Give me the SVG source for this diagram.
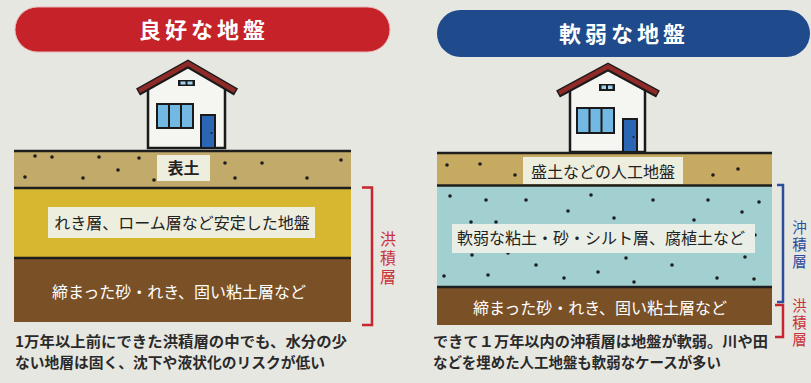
<svg xmlns="http://www.w3.org/2000/svg" width="811" height="383" viewBox="0 0 811 383">
  <defs>
    <style>
      .jp { font-family: "Noto Sans CJK JP", "Noto Sans", sans-serif; }
      .title { font-size: 22px; font-weight: bold; fill: #ffffff; letter-spacing: 4px; }
      .lbl { font-size: 16px; fill: #222222; }
      .lblw { font-size: 16px; fill: #ffffff; }
      .cap { font-size: 14.5px; font-weight: bold; fill: #2a2a2a; }
      .vert { writing-mode: vertical-rl; }
      .vr { font-size: 16px; fill: #c8323a; letter-spacing: 3px; }
      .vb { font-size: 14.5px; fill: #2c4c9c; letter-spacing: 2.5px; }
      .vr2 { font-size: 14.5px; fill: #c8323a; letter-spacing: 2.5px; }
      .edge { stroke: #1e1e1e; stroke-width: 2.5; fill: none; }
      .box { fill: #eeeedf; }
      .dot { fill: #1e1e1e; }
      .wall { fill: #f5f5f1; stroke: #1a1a1a; stroke-width: 2.5; stroke-linejoin: miter; }
      .roofo { fill: none; stroke: #1a1a1a; stroke-width: 8; stroke-linejoin: miter; }
      .roofi { fill: none; stroke: #8e2a28; stroke-width: 4.5; stroke-linejoin: miter; }
      .win { fill: #72b8e2; stroke: #1a1a1a; stroke-width: 2; }
      .door { fill: #2b66b4; stroke: #1a1a1a; stroke-width: 2; }
    </style>
  </defs>

  <!-- paper background -->
  <rect x="0" y="0" width="811" height="383" fill="#e7e7e2"/>

  <!-- ===== left panel: good ground ===== -->
  <g id="title-good">
    <rect x="15" y="7" width="375" height="45" rx="22.5" fill="#c62229" stroke="#e8b8b8" stroke-width="1"/>
    <text class="jp title" x="204" y="38" text-anchor="middle">良好な地盤</text>
  </g>

  <g id="house-good">
    <polygon class="wall" points="148,86 188,64 225,86 225,148 148,148"/>
    <polyline class="roofo" points="138,92 188,64 236,92"/>
    <polyline class="roofi" points="139,91 188,63.5 235,91"/>
    <rect x="178" y="80" width="17" height="6" fill="#1a1a1a"/>
    <rect x="180.5" y="81.5" width="5" height="3" fill="#9fd2ee"/>
    <rect x="187.5" y="81.5" width="5" height="3" fill="#9fd2ee"/>
    <rect class="win" x="157" y="104" width="36" height="24"/>
    <line x1="169" y1="104" x2="169" y2="128" stroke="#1a1a1a" stroke-width="2"/>
    <line x1="181" y1="104" x2="181" y2="128" stroke="#1a1a1a" stroke-width="2"/>
    <rect class="door" x="201" y="115" width="14" height="33"/>
    <circle cx="211.5" cy="133" r="1" fill="#1a1a1a"/>
  </g>

  <g id="layer-topsoil-good">
    <rect x="14" y="151" width="337" height="37" fill="#c2aa6a"/>
    <g class="dot">
      <circle cx="35" cy="156" r="1.8"/><circle cx="52" cy="157" r="1.8"/>
      <circle cx="99" cy="157" r="1.8"/><circle cx="139" cy="158" r="1.8"/>
      <circle cx="118" cy="170" r="1.8"/><circle cx="25" cy="177" r="1.8"/>
      <circle cx="83" cy="178" r="1.8"/><circle cx="154" cy="180" r="1.8"/>
      <circle cx="225" cy="163" r="1.8"/><circle cx="262" cy="163" r="1.8"/>
      <circle cx="341" cy="160" r="1.8"/><circle cx="235" cy="178" r="1.8"/>
      <circle cx="307" cy="178" r="1.8"/>
    </g>
    <rect class="box" x="157" y="155" width="53" height="26"/>
    <text class="jp lbl" x="183.5" y="174" text-anchor="middle" font-weight="bold">表土</text>
  </g>

  <g id="layer-gravel-good">
    <rect x="14" y="188" width="337" height="70" fill="#d6b72f"/>
    <rect class="box" x="48" y="207" width="267" height="31"/>
    <text class="jp lbl" x="182" y="228.5" text-anchor="middle">れき層、ローム層など安定した地盤</text>
  </g>

  <g id="layer-clay-good">
    <rect x="14" y="258" width="337" height="64" fill="#7a5127"/>
    <text class="jp lblw" x="179" y="297.5" text-anchor="middle">締まった砂・れき、固い粘土層など</text>
  </g>

  <g id="lines-good">
    <line class="edge" x1="14" y1="151" x2="351" y2="151"/>
    <line class="edge" x1="14" y1="188" x2="351" y2="188"/>
    <line class="edge" x1="14" y1="258" x2="351" y2="258"/>
  </g>

  <g id="bracket-diluvial-good">
    <path d="M362,187.5 H372 V325 H362" fill="none" stroke="#c8262e" stroke-width="2.5"/>
    <text class="jp vert vr" x="388" y="231">洪積層</text>
  </g>

  <g id="caption-good">
    <text class="jp cap" x="15" y="346.5" textLength="332" lengthAdjust="spacingAndGlyphs">1万年以上前にできた洪積層の中でも、水分の少</text>
    <text class="jp cap" x="15" y="367.5" textLength="310" lengthAdjust="spacingAndGlyphs">ない地層は固く、沈下や液状化のリスクが低い</text>
  </g>

  <!-- ===== right panel: soft ground ===== -->
  <g id="title-soft">
    <rect x="437" y="10" width="373" height="47" rx="23.5" fill="#1f4a8c"/>
    <text class="jp title" x="624" y="42" text-anchor="middle">軟弱な地盤</text>
  </g>

  <g id="house-soft">
    <polygon class="wall" points="570,90 608,68 645,90 645,152 570,152"/>
    <polyline class="roofo" points="558,94 608,67 658,94"/>
    <polyline class="roofi" points="559,93 608,66.5 657,93"/>
    <rect x="599" y="84" width="16" height="7" fill="#1a1a1a"/>
    <rect x="601.5" y="85.5" width="4.5" height="3.5" fill="#9fd2ee"/>
    <rect x="608" y="85.5" width="4.5" height="3.5" fill="#9fd2ee"/>
    <rect class="win" x="577" y="108" width="37" height="25"/>
    <line x1="589.5" y1="108" x2="589.5" y2="133" stroke="#1a1a1a" stroke-width="2"/>
    <line x1="601.5" y1="108" x2="601.5" y2="133" stroke="#1a1a1a" stroke-width="2"/>
    <rect class="door" x="623" y="119" width="14" height="33"/>
    <circle cx="633.5" cy="137" r="1" fill="#1a1a1a"/>
  </g>

  <g id="layer-fill-soft">
    <rect x="437" y="153" width="335" height="33" fill="#c6aa62"/>
    <g class="dot">
      <circle cx="447" cy="165" r="1.8"/><circle cx="480" cy="164" r="1.8"/>
      <circle cx="515" cy="175" r="1.8"/><circle cx="713" cy="175" r="1.8"/>
      <circle cx="738" cy="169" r="1.8"/>
    </g>
    <rect class="box" x="523" y="157" width="160" height="27"/>
    <text class="jp lbl" x="603" y="177.5" text-anchor="middle">盛土などの人工地盤</text>
  </g>

  <g id="layer-alluvial-soft">
    <rect x="437" y="186" width="335" height="101" fill="#a2d0d1"/>
    <g class="dot">
      <circle cx="450" cy="196" r="1.8"/><circle cx="486" cy="200" r="1.8"/>
      <circle cx="526" cy="200" r="1.8"/><circle cx="591" cy="195" r="1.8"/>
      <circle cx="568" cy="211" r="1.8"/><circle cx="471" cy="222" r="1.8"/>
      <circle cx="496" cy="222" r="1.8"/><circle cx="614" cy="218" r="1.8"/>
      <circle cx="653" cy="200" r="1.8"/><circle cx="708" cy="200" r="1.8"/>
      <circle cx="759" cy="202" r="1.8"/><circle cx="742" cy="212" r="1.8"/>
      <circle cx="694" cy="220" r="1.8"/><circle cx="755" cy="235" r="1.8"/>
      <circle cx="472" cy="255" r="1.8"/><circle cx="508" cy="253" r="1.8"/>
      <circle cx="536" cy="265" r="1.8"/><circle cx="626" cy="258" r="1.8"/>
      <circle cx="745" cy="257" r="1.8"/><circle cx="672" cy="265" r="1.8"/>
      <circle cx="444" cy="276" r="1.8"/><circle cx="488" cy="275" r="1.8"/>
      <circle cx="564" cy="278" r="1.8"/><circle cx="598" cy="272" r="1.8"/>
      <circle cx="634" cy="282" r="1.8"/><circle cx="717" cy="278" r="1.8"/>
      <circle cx="754" cy="279" r="1.8"/>
    </g>
    <rect x="452" y="224" width="303" height="29" fill="#e9efe6"/>
    <text class="jp lbl" x="601" y="244" text-anchor="middle">軟弱な粘土・砂・シルト層、腐植土など</text>
  </g>

  <g id="layer-clay-soft">
    <rect x="437" y="287" width="335" height="38" fill="#7a5127"/>
    <text class="jp lblw" x="600" y="313.5" text-anchor="middle">締まった砂・れき、固い粘土層など</text>
  </g>

  <g id="lines-soft">
    <line class="edge" x1="437" y1="153" x2="772" y2="153"/>
    <line class="edge" x1="437" y1="185.5" x2="772" y2="185.5"/>
    <line class="edge" x1="437" y1="287" x2="772" y2="287"/>
  </g>

  <g id="bracket-alluvial-soft">
    <path d="M777,185 H783 V302 H777" fill="none" stroke="#2c4c9c" stroke-width="2.5"/>
    <text class="jp vert vb" x="799.5" y="220">沖積層</text>
  </g>

  <g id="bracket-diluvial-soft">
    <path d="M775,305 H783 V337 H775" fill="none" stroke="#c8262e" stroke-width="2.5"/>
    <text class="jp vert vr2" x="799.5" y="298">洪積層</text>
  </g>

  <g id="caption-soft">
    <text class="jp cap" x="433" y="346.5" textLength="335" lengthAdjust="spacingAndGlyphs">できて１万年以内の沖積層は地盤が軟弱。川や田</text>
    <text class="jp cap" x="433" y="367.5" textLength="288" lengthAdjust="spacingAndGlyphs">などを埋めた人工地盤も軟弱なケースが多い</text>
  </g>
</svg>
